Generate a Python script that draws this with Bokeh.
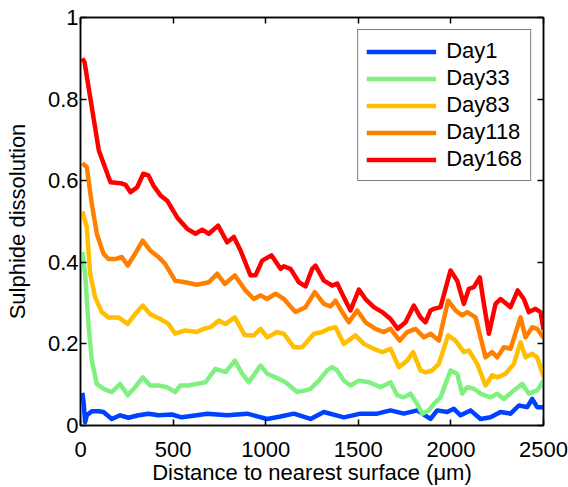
from bokeh.plotting import figure
from bokeh.models import Range1d, LinearAxis, FixedTicker, Legend, LegendItem
from bokeh.embed import file_html
from bokeh.resources import INLINE

# distance (um) vs sulphide dissolution
day1_x = [10, 16, 25, 34, 61, 97, 124, 169, 214, 259, 313, 367, 421, 493, 547, 628, 684, 792,
          900, 1008, 1080, 1152, 1242, 1314, 1422, 1512, 1602, 1674, 1746, 1818, 1890, 1926,
          1980, 2016, 2052, 2106, 2160, 2214, 2268, 2322, 2367, 2412, 2439, 2466, 2500]
day1_y = [0.08, 0.06, 0.008, 0.025, 0.035, 0.035, 0.033, 0.016, 0.025, 0.019, 0.025, 0.029,
          0.025, 0.027, 0.02, 0.025, 0.029, 0.025, 0.029, 0.016, 0.022, 0.029, 0.016, 0.033,
          0.02, 0.029, 0.029, 0.037, 0.029, 0.037, 0.016, 0.037, 0.033, 0.041, 0.025, 0.037,
          0.016, 0.02, 0.033, 0.029, 0.049, 0.045, 0.065, 0.045, 0.045]

day33_x = [10, 25, 43, 61, 88, 124, 169, 214, 255, 295, 336, 376, 421, 466, 511, 538, 583,
           628, 675, 729, 783, 833, 873, 909, 972, 1008, 1053, 1107, 1170, 1215, 1242, 1287,
           1332, 1359, 1386, 1422, 1458, 1503, 1557, 1620, 1674, 1710, 1746, 1782, 1818, 1845,
           1881, 1908, 1944, 1998, 2034, 2061, 2088, 2124, 2160, 2214, 2250, 2286, 2340, 2385,
           2421, 2466, 2500]
day33_y = [0.425, 0.372, 0.249, 0.159, 0.102, 0.09, 0.082, 0.102, 0.074, 0.094, 0.118, 0.098,
           0.098, 0.094, 0.082, 0.098, 0.098, 0.102, 0.106, 0.139, 0.131, 0.159, 0.127, 0.106,
           0.147, 0.127, 0.118, 0.106, 0.082, 0.086, 0.09, 0.11, 0.135, 0.143, 0.135, 0.11,
           0.098, 0.11, 0.106, 0.094, 0.106, 0.074, 0.069, 0.078, 0.053, 0.029, 0.037, 0.053,
           0.069, 0.135, 0.127, 0.078, 0.094, 0.09, 0.078, 0.069, 0.078, 0.065, 0.086, 0.102,
           0.078, 0.086, 0.11]

day83_x = [10, 34, 52, 79, 115, 151, 205, 255, 295, 336, 376, 430, 475, 511, 565, 628, 666,
           702, 747, 783, 833, 887, 936, 972, 1008, 1062, 1098, 1152, 1197, 1260, 1305, 1341,
           1377, 1422, 1485, 1530, 1584, 1629, 1674, 1719, 1764, 1796, 1836, 1863, 1899, 1935,
           1985, 2025, 2070, 2097, 2142, 2187, 2223, 2250, 2295, 2340, 2376, 2403, 2439, 2466,
           2500]
day83_y = [0.525, 0.486, 0.372, 0.314, 0.278, 0.265, 0.265, 0.249, 0.273, 0.294, 0.273, 0.261,
           0.249, 0.225, 0.233, 0.229, 0.237, 0.241, 0.257, 0.249, 0.265, 0.221, 0.221, 0.237,
           0.216, 0.229, 0.225, 0.192, 0.192, 0.225, 0.229, 0.237, 0.241, 0.2, 0.221, 0.2,
           0.188, 0.18, 0.188, 0.143, 0.159, 0.18, 0.135, 0.13, 0.135, 0.151, 0.221, 0.208,
           0.18, 0.184, 0.151, 0.098, 0.123, 0.118, 0.127, 0.151, 0.204, 0.167, 0.176, 0.167,
           0.12]

day118_x = [10, 34, 61, 88, 124, 151, 187, 223, 255, 295, 336, 376, 421, 457, 511, 565, 628,
            693, 738, 779, 833, 891, 936, 972, 1008, 1053, 1098, 1161, 1215, 1265, 1314, 1350,
            1377, 1413, 1449, 1494, 1539, 1593, 1638, 1674, 1724, 1764, 1809, 1854, 1890, 1935,
            1985, 2025, 2061, 2088, 2133, 2187, 2223, 2250, 2286, 2322, 2376, 2403, 2439, 2466,
            2500]
day118_y = [0.643, 0.633, 0.543, 0.47, 0.421, 0.408, 0.408, 0.413, 0.392, 0.421, 0.453, 0.429,
            0.413, 0.396, 0.355, 0.351, 0.345, 0.351, 0.372, 0.347, 0.368, 0.331, 0.31, 0.319,
            0.31, 0.323, 0.31, 0.278, 0.29, 0.327, 0.298, 0.292, 0.306, 0.278, 0.253, 0.282,
            0.253, 0.237, 0.229, 0.237, 0.208, 0.229, 0.237, 0.216, 0.225, 0.208, 0.306, 0.282,
            0.27, 0.278, 0.265, 0.167, 0.18, 0.167, 0.192, 0.188, 0.265, 0.216, 0.241, 0.237,
            0.215]

day168_x = [10, 22, 54, 99, 162, 216, 243, 270, 306, 339, 367, 394, 432, 468, 522, 576, 621,
            657, 693, 743, 792, 828, 864, 918, 945, 981, 1031, 1080, 1098, 1134, 1179, 1215,
            1251, 1269, 1314, 1359, 1386, 1422, 1458, 1503, 1539, 1584, 1629, 1674, 1713, 1755,
            1800, 1836, 1863, 1890, 1908, 1944, 1998, 2034, 2070, 2097, 2124, 2156, 2178, 2205,
            2241, 2268, 2322, 2361, 2394, 2421, 2457, 2484, 2500]
day168_y = [0.90, 0.89, 0.80, 0.674, 0.596, 0.594, 0.59, 0.572, 0.584, 0.617, 0.613, 0.588,
            0.564, 0.551, 0.51, 0.482, 0.47, 0.48, 0.47, 0.49, 0.449, 0.462, 0.429, 0.368,
            0.368, 0.404, 0.417, 0.384, 0.39, 0.384, 0.351, 0.341, 0.384, 0.392, 0.355, 0.343,
            0.348, 0.314, 0.282, 0.333, 0.31, 0.29, 0.278, 0.261, 0.237, 0.253, 0.294, 0.265,
            0.253, 0.282, 0.286, 0.29, 0.38, 0.355, 0.298, 0.335, 0.339, 0.363, 0.298, 0.225,
            0.298, 0.31, 0.29, 0.331, 0.31, 0.278, 0.286, 0.278, 0.235]

series = [
    ("Day1", day1_x, day1_y, "#0040ff"),
    ("Day33", day33_x, day33_y, "#80f080"),
    ("Day83", day83_x, day83_y, "#ffbf00"),
    ("Day118", day118_x, day118_y, "#ff8000"),
    ("Day168", day168_x, day168_y, "#ff0000"),
]

FONT = "Liberation Sans"

p = figure(width=568, height=487, output_backend="svg", toolbar_location=None,
           x_range=Range1d(0, 2500), y_range=Range1d(0, 1),
           min_border_left=80, min_border_right=25, min_border_top=17, min_border_bottom=62)
p.grid.visible = False
p.outline_line_color = "black"
p.outline_line_width = 1.5
p.background_fill_color = "white"
p.border_fill_color = "white"

items = []
for name, xs, ys, col in series:
    r = p.line(xs, ys, line_width=4.5, color=col, line_join="round")
    items.append(LegendItem(label=name, renderers=[r]))

xticks = [0, 500, 1000, 1500, 2000, 2500]
yticks = [0, 0.2, 0.4, 0.6, 0.8, 1]

for ax in p.xaxis:
    ax.ticker = FixedTicker(ticks=xticks)
    ax.axis_label = "Distance to nearest surface (\u03bcm)"
for ax in p.yaxis:
    ax.ticker = FixedTicker(ticks=yticks)
    ax.axis_label = "Sulphide dissolution"
    ax.major_label_overrides = {0: "0", 0.2: "0.2", 0.4: "0.4", 0.6: "0.6", 0.8: "0.8", 1: "1"}

# mirrored tick marks on the top and right edges, no labels
top = LinearAxis(ticker=FixedTicker(ticks=xticks),
                 major_label_overrides={t: "" for t in xticks})
right = LinearAxis(ticker=FixedTicker(ticks=yticks),
                   major_label_overrides={t: "" for t in yticks})
p.add_layout(top, "above")
p.add_layout(right, "right")

for ax in p.axis:
    ax.axis_line_color = "black"
    ax.axis_line_width = 1.5
    ax.major_tick_line_color = "black"
    ax.major_tick_line_width = 1.5
    ax.major_tick_in = 6
    ax.major_tick_out = 0
    ax.minor_tick_line_color = None
    ax.major_label_text_font = FONT
    ax.major_label_text_font_size = "22px"
    ax.major_label_text_color = "black"
    ax.axis_label_text_font = FONT
    ax.axis_label_text_font_style = "normal"
    ax.axis_label_text_font_size = "22px"
    ax.axis_label_text_color = "black"

for ax in (top, right):
    ax.major_label_standoff = 0
    ax.major_label_text_font_size = "1px"

for ax in p.xaxis:
    ax.major_label_standoff = 16
    ax.axis_label_standoff = 0
for ax in p.yaxis:
    ax.major_label_standoff = 2
    ax.axis_label_standoff = 15

legend = Legend(items=items, location="top_right")
legend.label_text_font = FONT
legend.label_text_font_size = "22px"
legend.label_text_color = "black"
legend.glyph_width = 70
legend.glyph_height = 25
legend.label_height = 25
legend.label_standoff = 10
legend.spacing = 1
legend.padding = 8
legend.margin = 12
legend.border_line_color = "black"
legend.border_line_width = 1.5
legend.background_fill_alpha = 1.0
p.add_layout(legend)

open("out.html", "w").write(file_html(p, INLINE))
